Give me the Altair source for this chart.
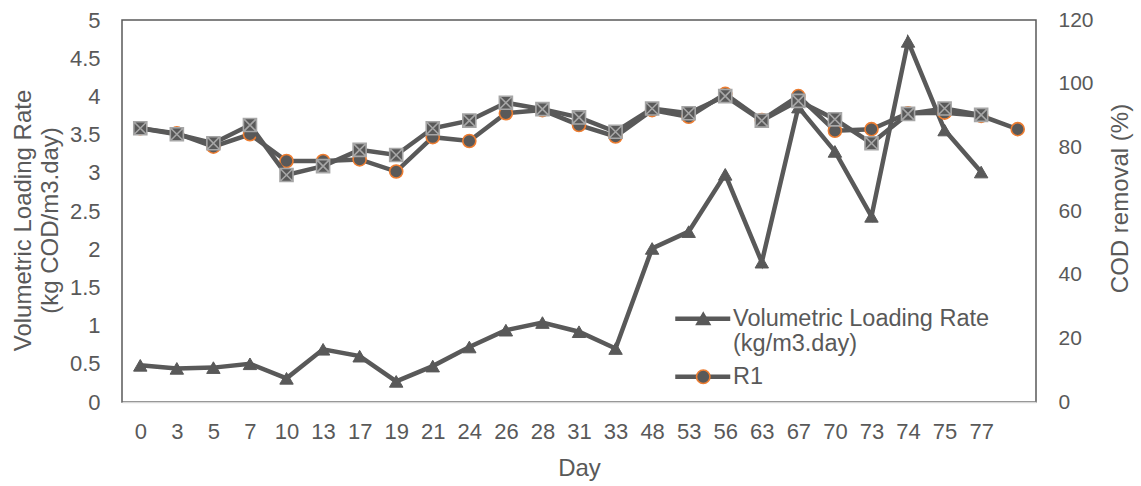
import altair as alt
import pandas as pd

# ---- data ----
days = ["0", "3", "5", "7", "10", "13", "17", "19", "21", "24", "26", "28",
        "31", "33", "48", "53", "56", "63", "67", "70", "73", "74", "75", "77"]
categories = days + [" "]  # one extra, unlabelled position at the end

vlr = [0.48, 0.44, 0.45, 0.50, 0.31, 0.69, 0.60, 0.27, 0.47, 0.72, 0.94, 1.04,
       0.92, 0.70, 2.01, 2.23, 2.98, 1.83, 3.86, 3.28, 2.43, 4.72, 3.56, 3.01]
r1 = [86.0, 84.4, 80.2, 84.1, 75.7, 75.7, 76.2, 72.4, 83.2, 82.0, 90.7, 91.7,
      87.0, 83.4, 91.7, 89.6, 96.8, 88.6, 96.1, 85.2, 85.7, 90.7, 90.9, 89.9, 85.7]
r2 = [86.0, 84.1, 81.3, 87.0, 71.3, 74.1, 79.2, 77.6, 86.0, 88.4, 94.0, 92.0,
      89.4, 84.9, 92.2, 90.7, 96.1, 88.4, 94.6, 88.8, 81.3, 90.5, 92.2, 90.2]

left_ticks = [0, 0.5, 1, 1.5, 2, 2.5, 3, 3.5, 4, 4.5, 5]
right_ticks = [0, 20, 40, 60, 80, 100, 120]

VLR_NAME = "Volumetric Loading Rate|(kg/m3.day)"
R1_NAME = "R1"
# marker legend uses slightly different keys so Vega-Lite keeps it separate
VLR_M = VLR_NAME + " "
R1_M = R1_NAME + " "

df_vlr = pd.DataFrame({"day": days, "value": vlr, "series": VLR_NAME, "marker": VLR_M})
df_r1 = pd.DataFrame({"day": categories, "value": r1, "series": R1_NAME, "marker": R1_M})
df_r2 = pd.DataFrame({"day": days, "value": r2})

GRAY = "#595959"
ORANGE = "#ED7D31"
LIGHT = "#A6A6A6"
FONT = "Liberation Sans"
LW = 4.5

x_enc = alt.X(
    "day:N",
    scale=alt.Scale(type="point", domain=categories, padding=0.5),
    axis=alt.Axis(
        title="Day", labelAngle=0, ticks=False, tickSize=0, labelPadding=19,
        domainColor="#D9D9D9", domainWidth=1.5, grid=False,
        labelFont=FONT, labelFontSize=22, labelColor=GRAY,
        titleFont=FONT, titleFontSize=24, titleFontWeight="normal", titleColor=GRAY,
        titleBaseline="top", titleY=54,
    ),
)

left_axis = alt.Axis(
    values=left_ticks, labelExpr="'' + datum.value", ticks=False, tickSize=0,
    domain=False, grid=False, labelPadding=22,
    labelFont=FONT, labelFontSize=22, labelColor=GRAY,
    title=["Volumetric Loading Rate", "(kg COD/m3.day)"],
    titleFont=FONT, titleFontSize=24, titleFontWeight="normal", titleColor=GRAY,
    titleAngle=270, titleBaseline="top", titleX=-111, titleY=200, titleLineHeight=27,
)

right_axis = alt.Axis(
    orient="right", values=right_ticks, ticks=False, tickSize=0,
    domain=False, grid=False, labelPadding=22,
    labelFont=FONT, labelFontSize=21, labelColor=GRAY,
    title="COD removal (%)",
    titleFont=FONT, titleFontSize=24, titleFontWeight="normal", titleColor=GRAY,
    titleAngle=270, titleBaseline="top", titleX=72, titleY=178,
)

y_left = alt.Y("value:Q", scale=alt.Scale(domain=[0, 5]), axis=left_axis)
y_right = alt.Y("value:Q", scale=alt.Scale(domain=[0, 120]), axis=right_axis)

legend_common = dict(
    orient="none", title=None, padding=0, rowPadding=8,
    labelFont=FONT, labelFontSize=23.5, labelColor=GRAY, labelLimit=600,
)

line_legend = alt.Legend(
    legendX=569, legendY=287,
    symbolType="M-5.5,0H5.5", symbolSize=100, symbolStrokeWidth=LW,
    symbolStrokeColor=GRAY,
    labelOffset=18.5,
    labelExpr="split(trim(datum.label), '|')",
    **legend_common,
)
# marker legend: same row heights, blank labels (the text comes from the line legend)
marker_legend = alt.Legend(
    legendX=569.5, legendY=287,
    symbolSize=180, symbolStrokeWidth=1.6, symbolFillColor=GRAY,
    labelExpr="length(split(trim(datum.label), '|')) > 1 ? [' ', ' '] : ' '",
    **legend_common,
)

color_enc = alt.Color(
    "series:N", scale=alt.Scale(domain=[VLR_NAME, R1_NAME], range=[GRAY, GRAY]),
    legend=line_legend,
)
shape_enc = alt.Shape(
    "marker:N", scale=alt.Scale(domain=[VLR_M, R1_M], range=["triangle-up", "circle"]),
    legend=marker_legend,
)
stroke_enc = alt.Stroke(
    "marker:N", scale=alt.Scale(domain=[VLR_M, R1_M], range=[GRAY, ORANGE]),
    legend=marker_legend,
)

# left-axis series
vlr_line = alt.Chart(df_vlr).mark_line(strokeWidth=LW).encode(x=x_enc, y=y_left, color=color_enc)
vlr_pts = alt.Chart(df_vlr).mark_point(filled=True, size=180, fill=GRAY, strokeWidth=1, opacity=1).encode(
    x=x_enc, y=y_left, shape=shape_enc, stroke=stroke_enc)
left = alt.layer(vlr_line, vlr_pts)

# right-axis series
r1_line = alt.Chart(df_r1).mark_line(strokeWidth=LW).encode(x=x_enc, y=y_right, color=color_enc)
r1_pts = alt.Chart(df_r1).mark_point(filled=True, size=170, fill=GRAY, strokeWidth=1.6, opacity=1).encode(
    x=x_enc, y=y_right, shape=shape_enc, stroke=stroke_enc)
r2_line = alt.Chart(df_r2).mark_line(strokeWidth=LW, color=GRAY).encode(x=x_enc, y=y_right)
r2_pts = alt.Chart(df_r2).mark_point(
    shape="M-1,-1H1V1H-1ZM-1,-1L1,1M-1,1L1,-1", size=170, filled=True,
    fill=GRAY, stroke=LIGHT, strokeWidth=1.6, opacity=1,
).encode(x=x_enc, y=y_right)
right = alt.layer(r1_line, r1_pts, r2_line, r2_pts)

chart = alt.layer(left, right).resolve_scale(y="independent").properties(
    width=914, height=382,
    autosize=alt.AutoSizeParams(type="none"),
    padding={"left": 122, "top": 20, "right": 105, "bottom": 84},
    background="white",
).configure_view(stroke=GRAY, strokeWidth=1.5)

chart.save("out.html", embed_options={"renderer": "svg", "actions": False})
